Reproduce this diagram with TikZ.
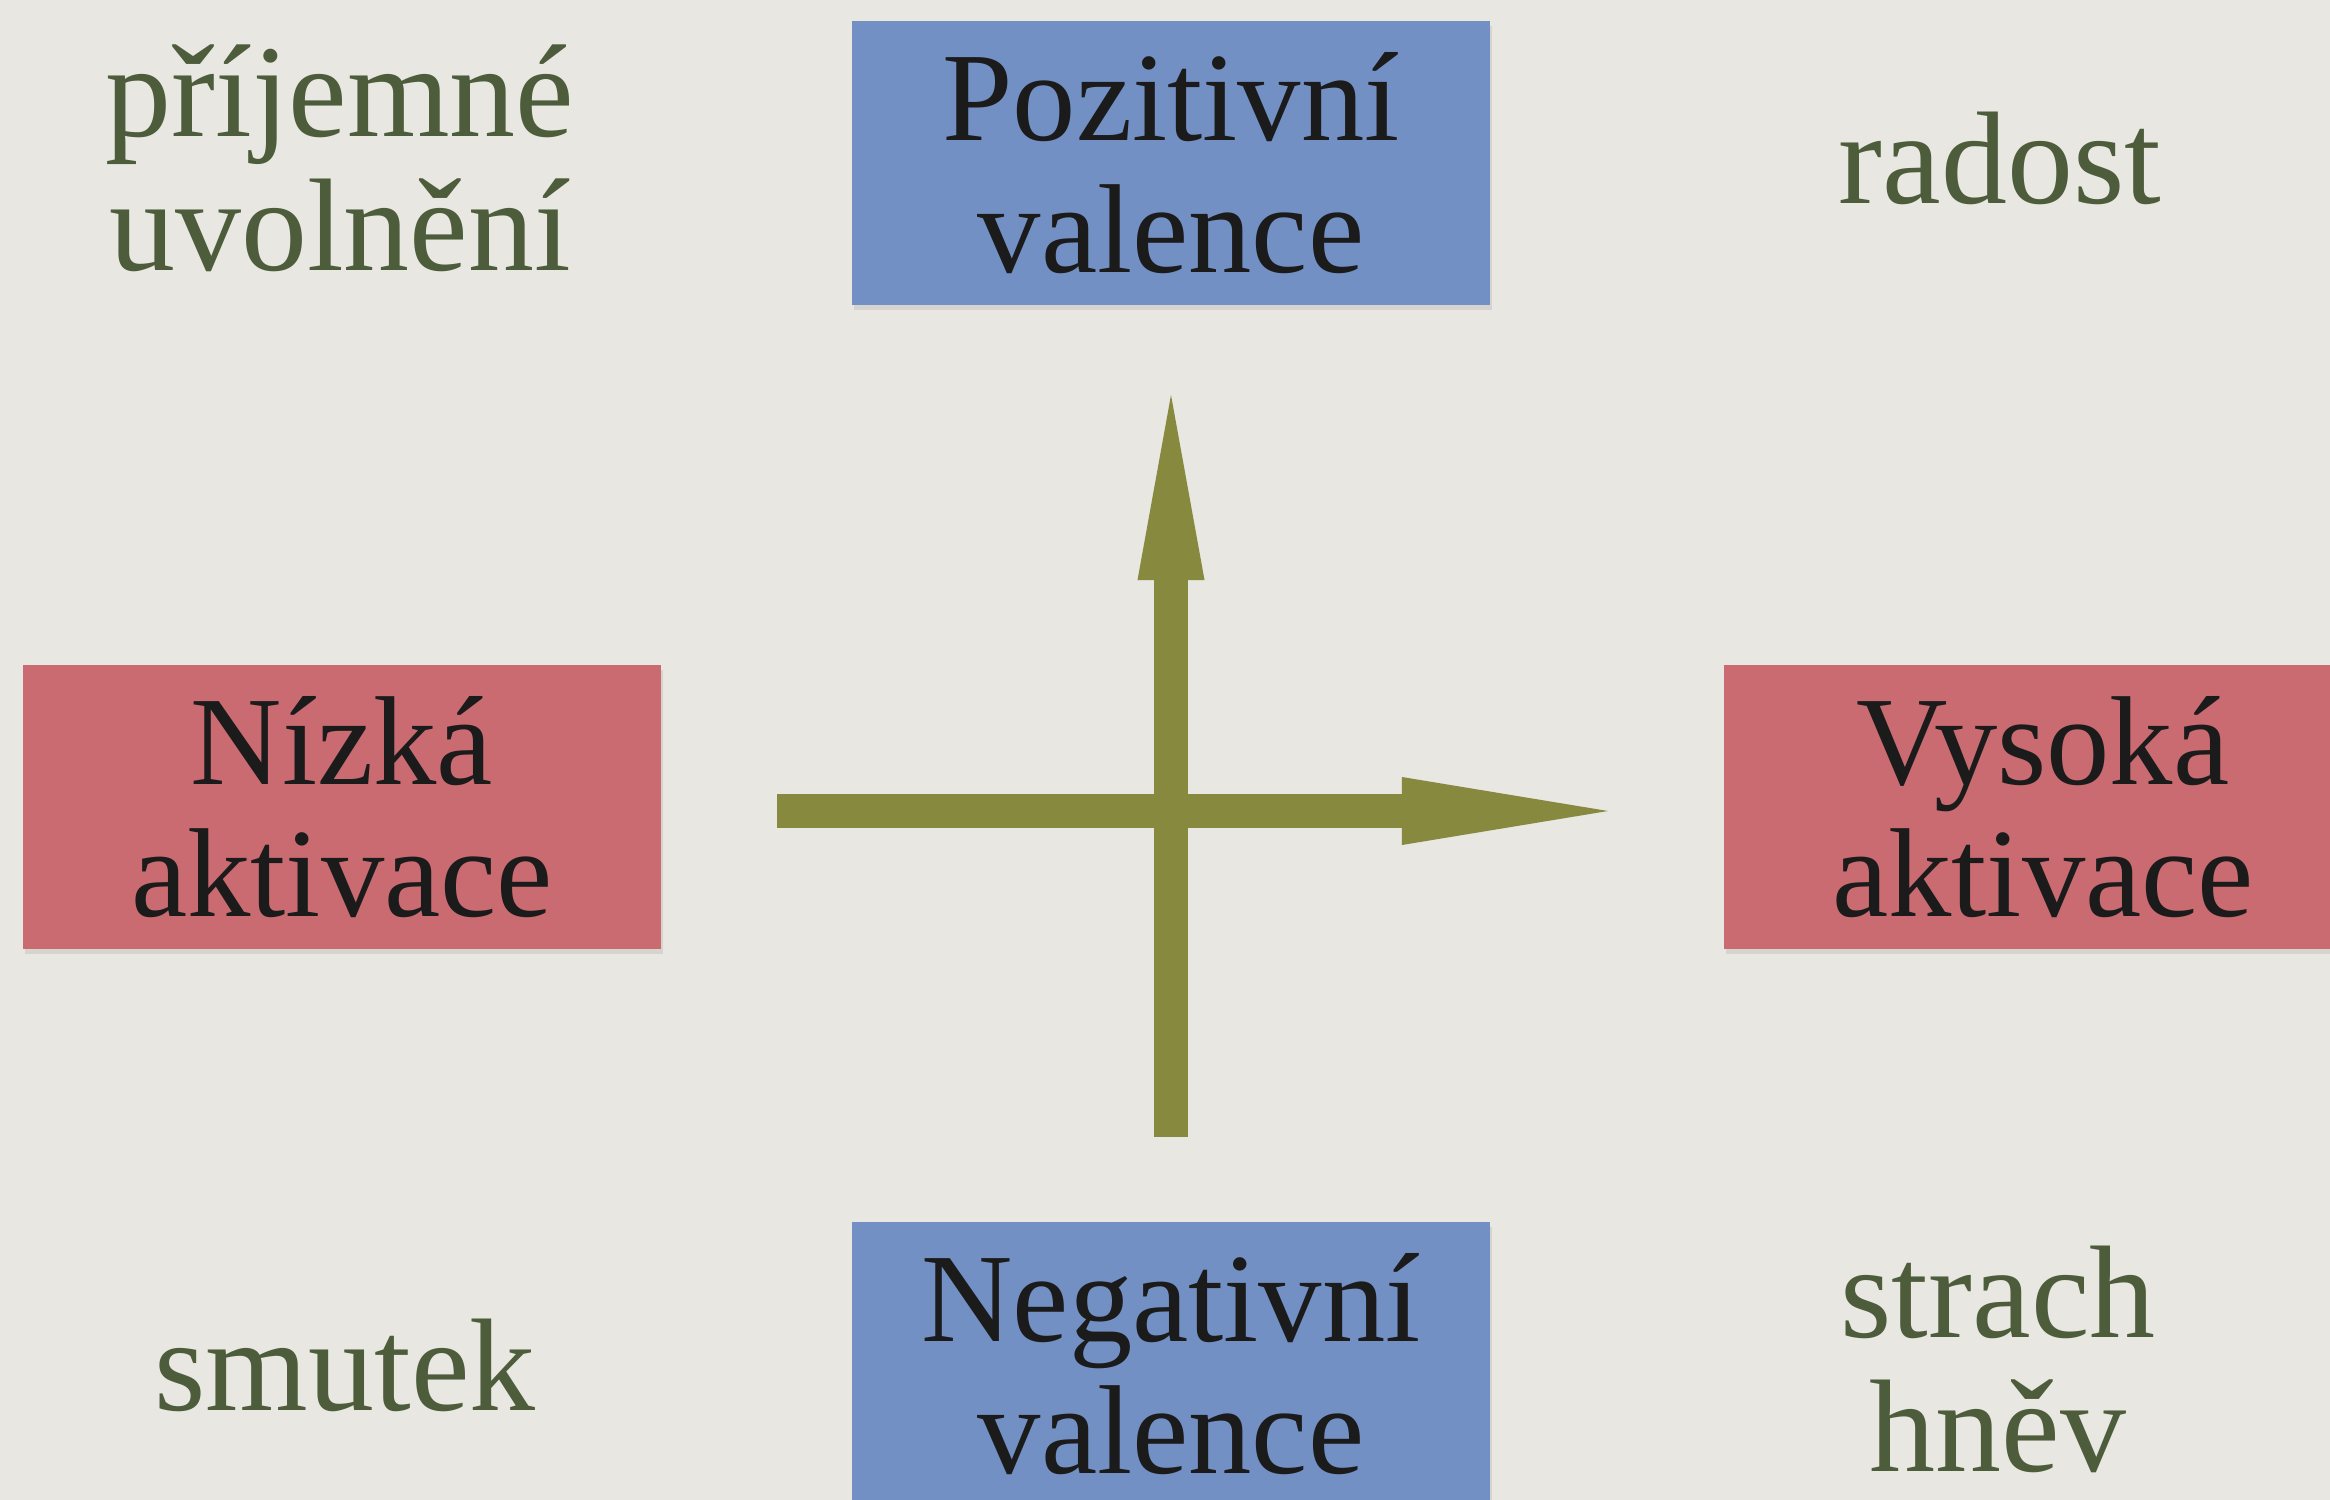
\documentclass[tikz,border=0pt]{standalone}
\usepackage{fontspec}
\setmainfont{Liberation Serif}
\usepackage{tikz}
\usetikzlibrary{arrows.meta}
\usetikzlibrary{shadows}
\definecolor{paper}{HTML}{E8E7E1}
\definecolor{valblue}{HTML}{7290C4}
\definecolor{actred}{HTML}{C96B71}
\definecolor{axisolive}{HTML}{878A3E}
\definecolor{feelgreen}{HTML}{4D5C3B}
\definecolor{boxink}{HTML}{1B1B1B}
\tikzset{>=latex}
\tikzset{
  box/.style={font=\fontsize{36}{37.5}\selectfont, minimum width=6.37cm, minimum height=2.83cm,
    inner sep=0pt, align=center, text=boxink,
    drop shadow={opacity=0.18, shadow xshift=0.02cm, shadow yshift=-0.05cm}},
  feel/.style={font=\fontsize{37.5}{38}\selectfont, align=center, inner sep=0pt, text=feelgreen},
  axisline/.style={draw=axisolive, line width=0.34cm}
}

\begin{document}
\begin{tikzpicture}[x=0.01cm, y=-0.01cm]
  \fill[paper] (0,0) rectangle (2330,1500);
  \useasboundingbox (0,0) rectangle (2330,1500);

  \node [box, fill=valblue] (Vpos) at (1171,163) {Pozitivní\\valence};
  \node [box, fill=valblue] (Vneg) at (1171,1364) {Negativní\\valence};
  \node [box, fill=actred] (Alow) at (342,807) {Nízká\\aktivace};
  \node [box, fill=actred] (Ahigh) at (2043,807) {Vysoká\\aktivace};

  \node [feel, anchor=south] (relief) at (340,272) {příjemné\\uvolnění};
  \node [feel, anchor=base] (joy) at (2000,204) {radost};
  \node [feel, anchor=base] (sad) at (345,1410) {smutek};
  \node [feel, anchor=south] (fear) at (1998,1473) {strach\\hněv};

  \coordinate (Hbase) at (777,811);
  \coordinate (Htip) at (1608,811);
  \coordinate (Vbase) at (1171,1137);
  \coordinate (Vtip) at (1171,395);
  \draw [axisline, -{Triangle[length=2.06cm, width=0.68cm, line width=0pt]}] (Hbase)--(Htip);
  \draw [axisline, -{Triangle[length=1.85cm, width=0.67cm, line width=0pt]}] (Vbase)--(Vtip);
\end{tikzpicture}
\end{document}
